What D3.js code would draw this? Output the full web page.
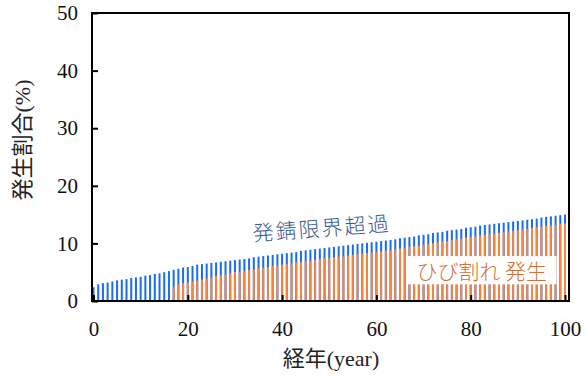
<!DOCTYPE html>
<html>
<head>
<meta charset="utf-8">
<script src="https://cdn.jsdelivr.net/npm/d3@7"></script>
<style>
  body { margin: 0; background: #fff; }
  svg { display: block; }
</style>
</head>
<body>
<script>
// years 0..100, one bar per year
let years = d3.range(0, 101);

// 発錆限界超過 (%), years 0..100
let rustValues = [
  2.4, 2.9, 3.1, 3.2, 3.4, 3.6, 3.7, 3.8, 4.0, 4.1,
  4.2, 4.4, 4.5, 4.7, 4.8, 5.0, 5.2, 5.4, 5.6, 5.8,
  5.9, 6.1, 6.3, 6.4, 6.5, 6.6, 6.7, 6.8, 6.9, 7.0,
  7.1, 7.2, 7.3, 7.4, 7.6, 7.7, 7.8, 7.9, 8.0, 8.1,
  8.2, 8.3, 8.4, 8.5, 8.7, 8.8, 8.9, 9.0, 9.1, 9.2,
  9.3, 9.4, 9.5, 9.6, 9.7, 9.8, 9.9, 10.0, 10.1, 10.2,
  10.3, 10.4, 10.5, 10.6, 10.7, 10.9, 11.0, 11.1, 11.2, 11.4,
  11.5, 11.6, 11.8, 11.9, 12.0, 12.2, 12.3, 12.4, 12.5, 12.7,
  12.8, 12.9, 13.1, 13.2, 13.3, 13.4, 13.5, 13.6, 13.7, 13.8,
  13.9, 14.0, 14.1, 14.2, 14.3, 14.5, 14.6, 14.7, 14.8, 14.9,
  15.0
];

// ひび割れ発生 (%), years 0..100 (none before year 17)
let crackValues = [
  0, 0, 0, 0, 0, 0, 0, 0, 0, 0,
  0, 0, 0, 0, 0, 0, 0, 2.4, 2.9, 3.1,
  3.2, 3.4, 3.6, 3.7, 3.9, 4.1, 4.3, 4.5, 4.6, 4.8,
  5.0, 5.1, 5.2, 5.4, 5.5, 5.7, 5.8, 5.9, 6.1, 6.2,
  6.3, 6.4, 6.6, 6.7, 6.8, 6.9, 7.0, 7.1, 7.3, 7.4,
  7.5, 7.6, 7.7, 7.8, 7.9, 8.0, 8.1, 8.2, 8.3, 8.4,
  8.5, 8.6, 8.7, 8.8, 9.0, 9.1, 9.2, 9.4, 9.5, 9.6,
  9.8, 9.9, 10.0, 10.2, 10.3, 10.4, 10.6, 10.7, 10.8, 11.0,
  11.1, 11.2, 11.4, 11.5, 11.6, 11.7, 11.8, 12.0, 12.1, 12.2,
  12.3, 12.4, 12.5, 12.7, 12.8, 12.9, 13.0, 13.1, 13.2, 13.4,
  13.5
];

let xTicks = [0, 20, 40, 60, 80, 100];
let yTicks = [0, 10, 20, 30, 40, 50];

let svgWidth = 585;
let svgHeight = 376;

let margin = { top: 13, right: 16, bottom: 75, left: 92 };
let chartWidth = svgWidth - margin.left - margin.right;
let chartHeight = svgHeight - margin.top - margin.bottom;

let serif = "'Liberation Serif', 'Times New Roman', 'Noto Sans CJK JP', serif";
let cjk = "'Noto Sans CJK JP', sans-serif";

let svg = d3.select("body")
  .append("svg")
  .attr("width", svgWidth)
  .attr("height", svgHeight);

let chartGroup = svg.append("g")
  .attr("transform", `translate(${margin.left}, ${margin.top})`);

let xScale = d3.scaleLinear()
  .domain([0, 100])
  .range([1.5, 473]);

let yScale = d3.scaleLinear()
  .domain([0, 50])
  .range([chartHeight, 0]);

let barW = 2;

// blue bars (behind)
chartGroup.selectAll(".rust")
  .data(years)
  .enter()
  .append("rect")
  .attr("class", "rust")
  .attr("x", d => xScale(d) - barW / 2)
  .attr("y", d => yScale(rustValues[d]))
  .attr("width", barW)
  .attr("height", d => chartHeight - yScale(rustValues[d]))
  .attr("fill", "#1a6cf2");

// orange bars (front)
chartGroup.selectAll(".crack")
  .data(years.filter(d => crackValues[d] > 0))
  .enter()
  .append("rect")
  .attr("class", "crack")
  .attr("x", d => xScale(d) - barW / 2)
  .attr("y", d => yScale(crackValues[d]))
  .attr("width", barW)
  .attr("height", d => chartHeight - yScale(crackValues[d]))
  .attr("fill", "#f7843f");

// label box for crack series
chartGroup.append("rect")
  .attr("x", xScale(66.5))
  .attr("y", yScale(7.8))
  .attr("width", xScale(98.2) - xScale(66.5))
  .attr("height", yScale(2.9) - yScale(7.8))
  .attr("fill", "#fff");

chartGroup.append("text")
  .attr("x", (xScale(66.5) + xScale(98.2)) / 2)
  .attr("y", yScale(3.8))
  .attr("text-anchor", "middle")
  .attr("font-family", cjk)
  .attr("font-size", 21)
  .attr("font-weight", 300)
  .attr("fill", "#cf733a")
  .text("ひび割れ 発生");

// rust label, slightly tilted
chartGroup.append("text")
  .attr("transform", `translate(${xScale(48.5)}, ${yScale(11.3)}) rotate(-4.3)`)
  .attr("text-anchor", "middle")
  .attr("font-family", cjk)
  .attr("font-size", 21)
  .attr("letter-spacing", 2)
  .attr("font-weight", 300)
  .attr("fill", "#3a5a90")
  .text("発錆限界超過");

// X Axis
let bottomAxis = d3.axisBottom(xScale)
  .tickValues(xTicks)
  .tickSizeInner(-6)
  .tickSizeOuter(0)
  .tickPadding(20);

let xAxis = chartGroup.append("g")
  .attr("transform", `translate(0, ${chartHeight})`)
  .call(bottomAxis);
xAxis.select(".domain").remove();
xAxis.selectAll("line").attr("stroke", "#000").attr("stroke-width", 2);
xAxis.selectAll("text")
  .attr("font-family", serif)
  .attr("font-size", 21)
  .attr("fill", "#111");

// Y Axis
let leftAxis = d3.axisLeft(yScale)
  .tickValues(yTicks)
  .tickSizeInner(-6)
  .tickSizeOuter(0)
  .tickPadding(14);

let yAxis = chartGroup.append("g")
  .call(leftAxis);
yAxis.select(".domain").remove();
yAxis.selectAll("line").attr("stroke", "#000").attr("stroke-width", 2);
yAxis.selectAll("text")
  .attr("font-family", serif)
  .attr("font-size", 21)
  .attr("fill", "#111");

// frame
chartGroup.append("rect")
  .attr("x", 0)
  .attr("y", 0)
  .attr("width", chartWidth)
  .attr("height", chartHeight)
  .attr("fill", "none")
  .attr("stroke", "#000")
  .attr("stroke-width", 2);

// axis titles
svg.append("text")
  .attr("x", 331)
  .attr("y", 366)
  .attr("text-anchor", "middle")
  .attr("font-family", serif)
  .attr("font-size", 22)
  .attr("fill", "#222")
  .text("経年(year)");

svg.append("text")
  .attr("transform", `translate(30, 140) rotate(-90)`)
  .attr("text-anchor", "middle")
  .attr("font-family", serif)
  .attr("font-size", 22)
  .attr("fill", "#222")
  .text("発生割合(%)");
</script>
</body>
</html>
